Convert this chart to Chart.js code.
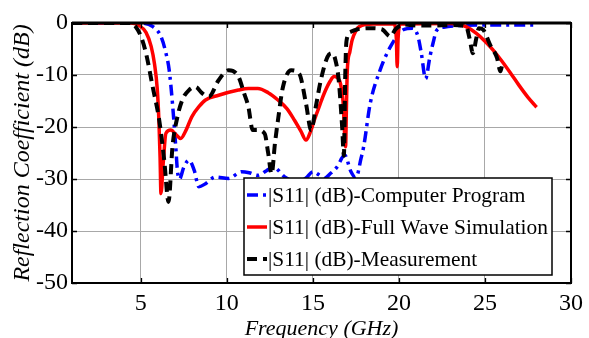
<!DOCTYPE html>
<html>
<head>
<meta charset="utf-8">
<script src="https://cdn.jsdelivr.net/npm/chart.js@4.4.0/dist/chart.umd.min.js"></script>
<style>
html, body { margin: 0; padding: 0; background: #fff; }
canvas { display: block; }
</style>
</head>
<body>
<canvas id="chartCanvas" width="589" height="338"></canvas>
<script>
// Axis ticks
const xTicks = [5, 10, 15, 20, 25, 30];
const yTicks = [0, -10, -20, -30, -40, -50];

const seriesNames = [
    '|S11| (dB)-Computer Program',
    '|S11| (dB)-Full Wave Simulation',
    '|S11| (dB)-Measurement'
];

// |S11| from the computer program (blue, dash-dot)
const cpFreq = [1, 4.9, 5.7, 6.17, 6.46, 6.65, 6.84, 7.03, 7.13, 7.25, 7.5, 7.8, 8.1, 8.37, 8.76, 9.33, 10.1, 10.86, 11.3, 11.8, 12.3, 12.7, 13.36, 14.1, 14.6, 15.0, 15.35, 15.66, 16.0, 16.4, 16.85, 17.2, 17.5, 17.8, 17.95, 18.33, 18.9, 19.5, 20.25, 20.8, 21.1, 21.3, 21.55, 21.8, 21.98, 22.2, 22.6, 23.5, 25, 28];
const cpS11 = [0, 0, -0.7, -2.6, -5.8, -9.1, -15.5, -23.8, -28.5, -30, -27.7, -26.4, -28.3, -31.5, -30.9, -29.6, -29.9, -28.6, -28.8, -29.3, -28.4, -27.7, -29.6, -30.6, -29.8, -28.6, -29.2, -29.9, -29, -27.7, -25.4, -28.5, -29.8, -26, -23.8, -15.5, -9.1, -4.6, -1.3, -1.0, -2.5, -5.8, -10.7, -6.5, -3.9, -1.4, -0.8, -0.5, -0.4, -0.4];

// full wave simulation (red, solid)
const fwFreq = [1, 4.4, 4.9, 5.3, 5.6, 5.8, 5.95, 6.05, 6.12, 6.17, 6.3, 6.46, 6.75, 7.05, 7.32, 7.6, 7.97, 8.4, 8.76, 9.52, 10.67, 11.25, 11.8, 12.4, 12.97, 13.5, 13.93, 14.3, 14.6, 14.85, 15.08, 15.4, 15.66, 16.0, 16.23, 16.45, 16.6, 16.75, 16.9, 16.95, 17.0, 17.15, 17.28, 17.5, 17.7, 18.5, 19.7, 19.85, 19.9, 19.95, 20.1, 23, 23.5, 23.9, 24.5, 25.0, 25.5, 26.0, 26.5, 26.96, 27.5, 28.0];
const fwS11 = [0, 0, -0.5, -1.8, -4.5, -8, -12.5, -18.7, -26, -32.8, -27, -21.2, -20.6, -21.5, -22.2, -20.8, -18, -16, -14.8, -13.9, -12.9, -12.6, -12.6, -13.4, -14.8, -16.5, -18.7, -20.8, -22.5, -21, -18.7, -15.8, -13.5, -11.2, -10.3, -10.6, -11.6, -15, -23.8, -16, -9.1, -5.5, -3.3, -1.5, -0.7, -0.2, -0.2, -3, -8.4, -3, -0.2, -0.1, -0.3, -0.7, -2, -3.5, -5.3, -7.4, -9.7, -11.9, -14.3, -16.2];

// measurement (black, dashed)
const msFreq = [1, 4.4, 4.7, 5.0, 5.3, 5.69, 6.07, 6.36, 6.61, 6.84, 7.13, 7.41, 7.8, 8.18, 8.56, 8.95, 9.52, 10.1, 10.67, 11.0, 11.25, 11.5, 11.8, 12.2, 12.4, 12.6, 12.8, 12.97, 13.26, 13.74, 14.2, 14.6, 14.9, 15.17, 15.46, 15.85, 16.1, 16.3, 16.5, 16.7, 16.8, 16.88, 16.95, 17.2, 17.6, 18.3, 19.0, 19.5, 19.8, 20.3, 21, 22, 23, 23.9, 24.1, 24.3, 24.5, 24.65, 24.9, 25.3, 25.7, 25.9, 26.0];
const msS11 = [0, 0, -0.7, -2.5, -5.8, -12.3, -18.7, -26.4, -34.4, -23.8, -18, -14.8, -12.9, -12.3, -13.5, -14.2, -11, -9.1, -10.3, -13.5, -16.1, -20.6, -20.6, -21.3, -25, -29, -23, -18.7, -12.3, -9.1, -9.7, -15.5, -20.6, -16.1, -11, -6.5, -5.8, -7, -11, -20, -25.5, -10, -3.5, -1.7, -1.2, -1.0, -1.2, -2.6, -1.2, -0.3, -0.5, -0.5, -0.4, -0.6, -2.9, -5.8, -2.9, -1.0, -1.3, -4.2, -6.7, -9.3, -8];

const toPoints = (xs, ys) => xs.map((x, i) => ({ x: x, y: ys[i] }));

const SERIF = "'Liberation Serif', 'Times New Roman', serif";

const lineStyles = [
    { color: '#0000ff', width: 3.5, dash: [11, 5, 3, 5] },
    { color: '#ff0000', width: 3.5, dash: [] },
    { color: '#000000', width: 4, dash: [10, 6] }
];

// box around plot area + inward ticks
const frame = {
    id: 'frame',
    afterDraw(chart) {
        const { ctx, chartArea: a } = chart;
        const xs = chart.scales.x, ys = chart.scales.y;
        ctx.save();
        ctx.strokeStyle = '#000';
        ctx.lineWidth = 1.3;
        ctx.beginPath();
        xTicks.forEach(v => {
            const px = Math.round(xs.getPixelForValue(v)) + 0.5;
            ctx.moveTo(px, a.bottom); ctx.lineTo(px, a.bottom - 5);
            ctx.moveTo(px, a.top); ctx.lineTo(px, a.top + 5);
        });
        yTicks.forEach(v => {
            const py = Math.round(ys.getPixelForValue(v)) + 0.5;
            ctx.moveTo(a.left, py); ctx.lineTo(a.left + 5, py);
            ctx.moveTo(a.right, py); ctx.lineTo(a.right - 5, py);
        });
        ctx.stroke();
        ctx.lineWidth = 2;
        ctx.strokeRect(a.left, a.top, a.right - a.left, a.bottom - a.top);
        ctx.lineWidth = 3;
        ctx.beginPath();
        ctx.moveTo(a.left, a.top); ctx.lineTo(a.right, a.top);
        ctx.stroke();
        ctx.restore();
    }
};

// legend inside the plot, bottom right
const boxLegend = {
    id: 'boxLegend',
    afterDraw(chart) {
        const ctx = chart.ctx;
        const bx = 244, by = 178, bw = 308, bh = 97;
        ctx.save();
        ctx.fillStyle = '#fff';
        ctx.fillRect(bx, by, bw, bh);
        ctx.strokeStyle = '#000';
        ctx.lineWidth = 1.5;
        ctx.strokeRect(bx, by, bw, bh);
        const rows = [195, 227, 259];
        ctx.font = '21.4px ' + SERIF;
        ctx.textBaseline = 'middle';
        ctx.fillStyle = '#000';
        seriesNames.forEach((name, i) => {
            const s = lineStyles[i];
            ctx.strokeStyle = s.color;
            ctx.lineWidth = s.width;
            ctx.setLineDash(s.dash);
            ctx.beginPath();
            ctx.moveTo(247, rows[i]);
            ctx.lineTo(267, rows[i]);
            ctx.stroke();
            ctx.setLineDash([]);
            ctx.fillText(name, 268, rows[i] + 1);
        });
        ctx.restore();
    }
};

const datasets = [
    { label: seriesNames[0], data: toPoints(cpFreq, cpS11), order: 2 },
    { label: seriesNames[1], data: toPoints(fwFreq, fwS11), order: 1 },
    { label: seriesNames[2], data: toPoints(msFreq, msS11), order: 0 }
].map((d, i) => Object.assign(d, {
    borderColor: lineStyles[i].color,
    borderWidth: lineStyles[i].width,
    borderDash: lineStyles[i].dash,
    pointRadius: 0,
    fill: false,
    cubicInterpolationMode: 'monotone'
}));

new Chart(document.getElementById('chartCanvas'), {
    type: 'line',
    data: { datasets },
    options: {
        responsive: false,
        animation: false,
        devicePixelRatio: 1,
        layout: { padding: { top: 23, right: 11, left: 0, bottom: 0 } },
        plugins: { legend: { display: false }, tooltip: { enabled: false } },
        scales: {
            x: {
                type: 'linear',
                min: 1, max: 30,
                afterBuildTicks: (s) => { s.ticks = xTicks.map(v => ({ value: v })); },
                afterFit: (s) => { s.height = 55; },
                grid: { color: '#a8a8a8', lineWidth: 1, drawTicks: false },
                border: { color: '#000', width: 2 },
                ticks: { color: '#000', padding: 6, maxRotation: 0, font: { family: SERIF, size: 24 },
                    callback: (v) => String(v) },
                title: { display: true, text: 'Frequency (GHz)', color: '#000', padding: { top: 0, bottom: -4 },
                    font: { family: SERIF, size: 22, style: 'italic' } }
            },
            y: {
                type: 'linear',
                min: -50, max: 0,
                afterBuildTicks: (s) => { s.ticks = yTicks.map(v => ({ value: v })); },
                afterFit: (s) => { s.width = 72; },
                grid: { color: '#a8a8a8', lineWidth: 1, drawTicks: false },
                border: { color: '#000', width: 2 },
                ticks: { color: '#000', padding: 4, font: { family: SERIF, size: 24 },
                    callback: (v) => String(v) },
                title: { display: true, text: 'Reflection Coefficient (dB)', color: '#000', padding: { top: 8, bottom: 0 },
                    font: { family: SERIF, size: 24, style: 'italic' } }
            }
        }
    },
    plugins: [frame, boxLegend]
});
</script>
</body>
</html>
